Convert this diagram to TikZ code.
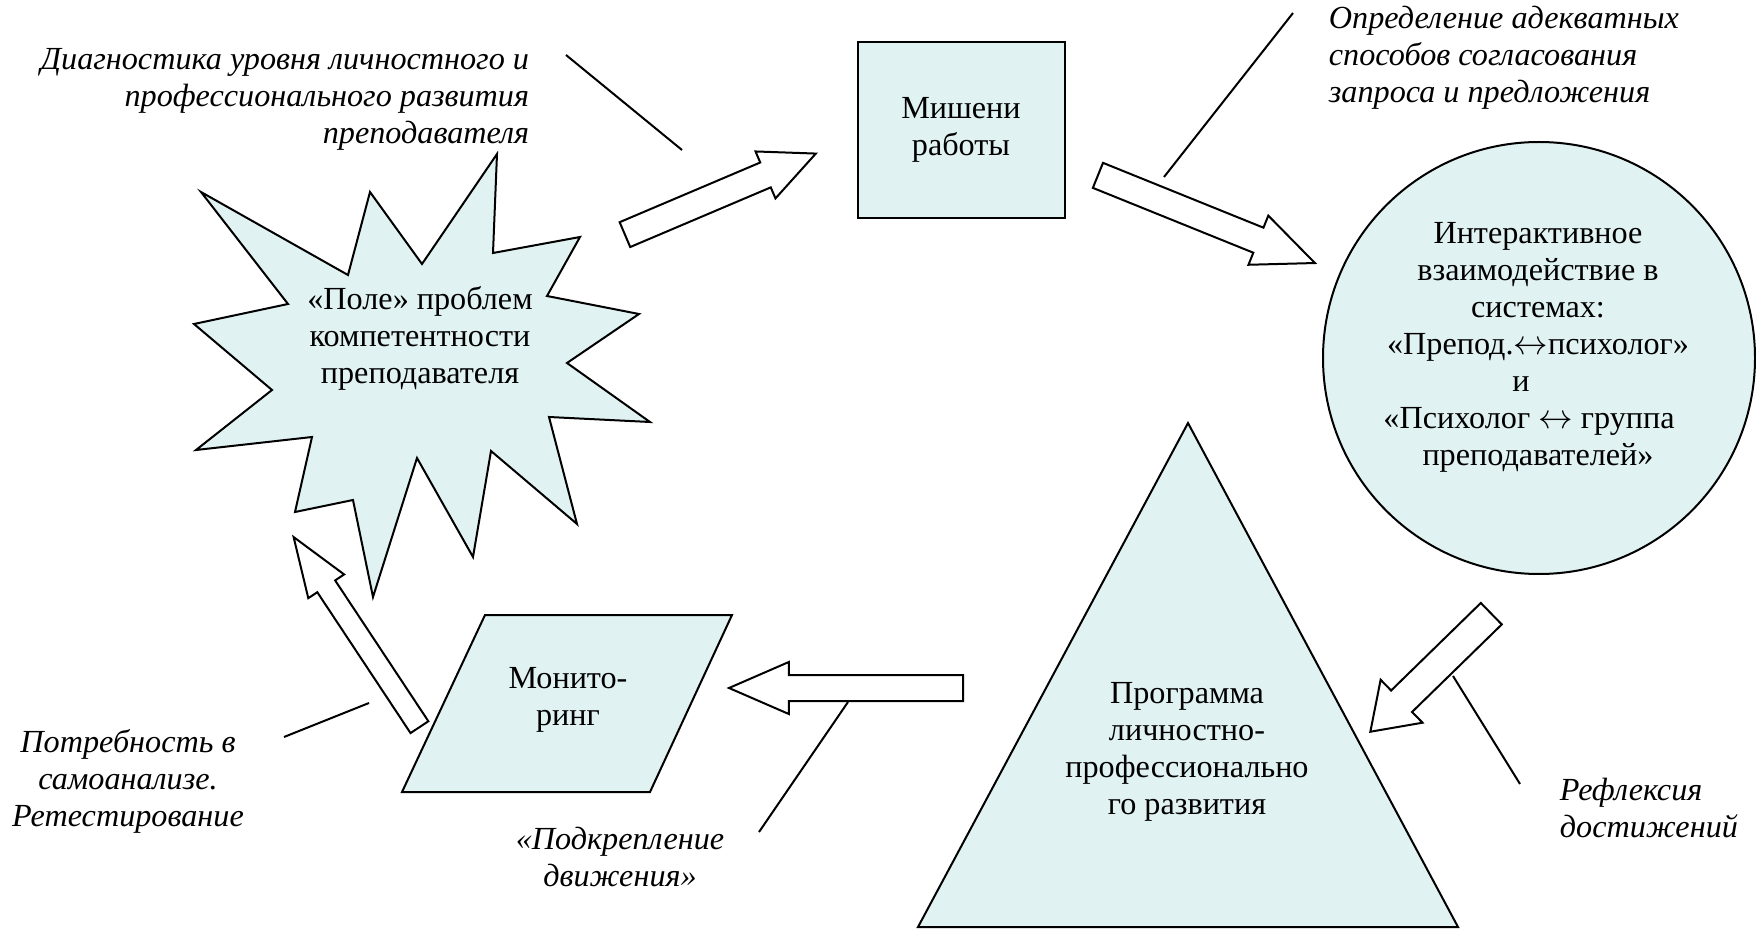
\documentclass[tikz,border=0pt]{standalone}
\usepackage{fontspec}
\setmainfont{Liberation Serif}
\usetikzlibrary{shapes.arrows}

\definecolor{paleaqua}{RGB}{225,242,242}
\newcommand{\lr}{\ensuremath{\leftrightarrow}}

\tikzset{
  figure/.style={draw=black, line width=1pt, fill=paleaqua},
  blockarrow/.style={single arrow, draw=black, line width=1pt, fill=white, inner xsep=0pt, anchor=tail},
  callout/.style={draw=black, line width=1pt},
  body/.style={inner sep=0.75pt, align=center, font=\fontsize{16.1}{18.5}\selectfont},
  note/.style={inner sep=0.75pt, font=\fontsize{16.1}{18.5}\selectfont\itshape},
}

\begin{document}
\begin{tikzpicture}[x=0.5pt,y=0.5pt,yscale=-1,xscale=1]
    \useasboundingbox (0,0) rectangle (1756,930);

    % Star [id:problems]
    \draw[figure] (497,154) -- (493,253) -- (580,237) -- (547,296) -- (639,314) -- (567,363) -- (650,422) -- (549,417) -- (577,524) -- (491,451) -- (473,557) -- (417,458) -- (373,597) -- (353,500) -- (295,512) -- (312,437) -- (196,450) -- (272,390) -- (194,324) -- (288,304) -- (201,192) -- (348,275) -- (370,192) -- (422,264) -- cycle ;
    % Rectangle [id:targets]
    \draw[figure] (858,42) rectangle (1065,218) ;
    % Circle [id:interaction]
    \draw[figure] (1539,358) circle [radius=216] ;
    % Triangle [id:programme]
    \draw[figure] (1188,423) -- (1458,927) -- (918,927) -- cycle ;
    % Parallelogram [id:monitoring]
    \draw[figure] (485,615) -- (732,615) -- (650,792) -- (402,792) -- cycle ;

    % Block Arrows
    \coordinate (ar1s) at (624,235);
    \coordinate (ar2s) at (1097,175);
    \coordinate (ar3s) at (1492,613);
    \coordinate (ar4s) at (964,688);
    \coordinate (ar5s) at (420,728);
    \node[blockarrow, rotate=23, minimum height=103.7pt, inner ysep=6.25pt, single arrow head extend=6pt, single arrow tip angle=50] (ar1) at (ar1s) {};
    \node[blockarrow, rotate=-22, minimum height=117pt, inner ysep=6.25pt, single arrow head extend=6.5pt, single arrow tip angle=47] (ar2) at (ar2s) {};
    \node[blockarrow, rotate=-135.7, minimum height=84.5pt, inner ysep=7pt, single arrow head extend=7.5pt, single arrow tip angle=69] (ar3) at (ar3s) {};
    \node[blockarrow, rotate=180, minimum height=117pt, inner ysep=6pt, single arrow head extend=6.5pt, single arrow tip angle=47] (ar4) at (ar4s) {};
    \node[blockarrow, rotate=123.5, minimum height=114pt, inner ysep=4.85pt, single arrow head extend=5.4pt, single arrow tip angle=40] (ar5) at (ar5s) {};

    % Straight Lines
    \coordinate (ln1a) at (566,55); \coordinate (ln1b) at (682,150);
    \coordinate (ln2a) at (1293,13); \coordinate (ln2b) at (1164,177);
    \coordinate (ln3a) at (284,737); \coordinate (ln3b) at (369,703);
    \coordinate (ln4a) at (759,832); \coordinate (ln4b) at (848,702);
    \coordinate (ln5a) at (1520,784); \coordinate (ln5b) at (1453,676);
    \draw[callout] (ln1a) -- (ln1b) ;
    \draw[callout] (ln2a) -- (ln2b) ;
    \draw[callout] (ln3a) -- (ln3b) ;
    \draw[callout] (ln4a) -- (ln4b) ;
    \draw[callout] (ln5a) -- (ln5b) ;

    % Text Nodes
    \node[body] (problems) at (420,338) {«Поле» проблем\\компетентности\\преподавателя};
    \node[body] (targets) at (961,130) {Мишени\\работы};
    \node[body] (interaction) at (1538,347) {Интерактивное\\взаимодействие в\\системах:\\«Препод.\lr психолог»\\и\rule{17pt}{0pt}\\«Психолог \lr{} группа\rule{9pt}{0pt}\\преподавателей»};
    \node[body] (programme) at (1187,752) {Программа\\личностно-\\профессионально\\го развития};
    \node[body] (monitoring) at (568,700) {Монито-\\ринг};

    \node[note, align=right, anchor=east] (diagnostics) at (531,99) {Диагностика уровня личностного и\\профессионального развития\\преподавателя};
    \node[note, align=left, anchor=west] (methods) at (1327,58) {Определение адекватных\\способов согласования\\запроса и предложения};
    \node[note, align=center] (selfanalysis) at (128,781) {Потребность в\\самоанализе.\\Ретестирование};
    \node[note, align=center] (support) at (620,857) {«Подкрепление\\движения»};
    \node[note, align=left, anchor=west] (reflection) at (1558,808) {Рефлексия\\достижений};
\end{tikzpicture}
\end{document}
